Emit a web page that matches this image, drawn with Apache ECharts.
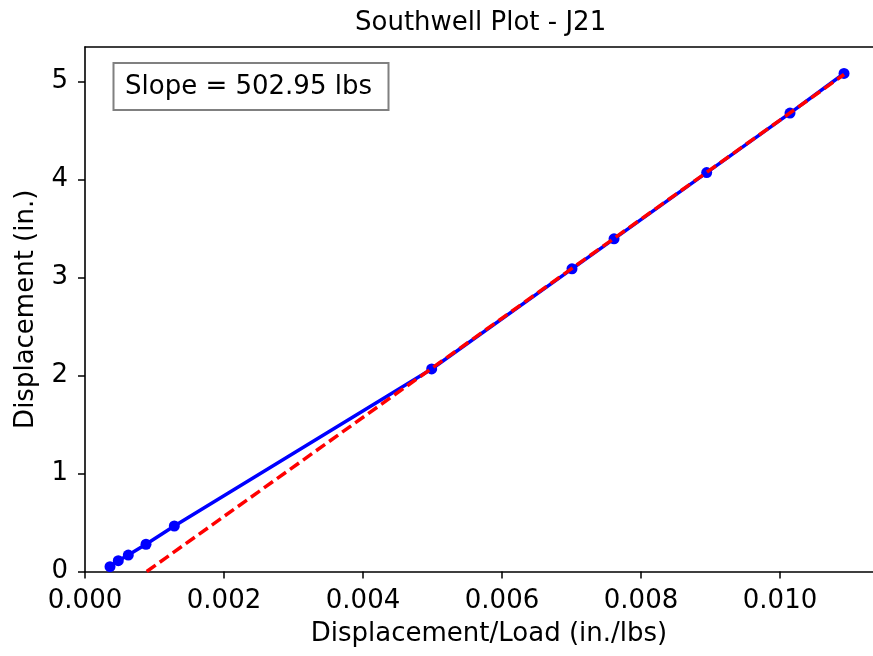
<!DOCTYPE html>
<html>
<head>
<meta charset="utf-8">
<script src="https://cdn.jsdelivr.net/npm/echarts@6/dist/echarts.min.js"></script>
<style>html,body{margin:0;padding:0;background:#fff}#c{width:873px;height:656px}</style>
</head>
<body>
<div id="c"></div>
<script>
// Measured data (Displacement/Load, Displacement)
var dispPerLoad = [0.00036, 0.000479, 0.000623, 0.000878, 0.001285, 0.004988, 0.007007, 0.007612, 0.008945, 0.010144, 0.010921];
var displacement = [0.049, 0.11, 0.168, 0.278, 0.464, 2.066, 3.087, 3.393, 4.069, 4.676, 5.08];
// Fit line end points
var fitX = [0.000888, 0.010921];
var fitY = [0.0, 5.07];
var xTicks = [0, 0.002, 0.004, 0.006, 0.008, 0.010];
var yTicks = [0, 1, 2, 3, 4, 5];
var titleText = 'Southwell Plot - J21';
var slopeText = 'Slope = 502.95 lbs';

var FONT = 'DejaVu Sans';
var chart = echarts.init(document.getElementById('c'), null, {renderer: 'canvas'});
var dataPts = dispPerLoad.map(function (x, i) { return [x, displacement[i]]; });
var fitPts = fitX.map(function (x, i) { return [x, fitY[i]]; });
var XMAX = 0.011338;

chart.setOption({
  animation: false,
  backgroundColor: '#fff',
  title: {
    text: titleText, left: 355, top: 10, padding: 0,
    textStyle: {fontFamily: FONT, fontSize: 26, fontWeight: 'normal', color: '#000'}
  },
  grid: {left: 85, right: 0, top: 47, bottom: 84.5, show: false},
  xAxis: [{
    type: 'value', min: 0, max: XMAX, interval: 0.002,
    name: 'Displacement/Load (in./lbs)', nameLocation: 'middle', nameGap: 50,
    nameTextStyle: {fontFamily: FONT, fontSize: 26, color: '#000', padding: [0, 0, 0, 20]},
    axisLine: {show: true, lineStyle: {color: '#000', width: 1.6}},
    axisTick: {show: true, inside: false, length: 7, lineStyle: {color: '#000', width: 1.5}},
    axisLabel: {fontFamily: FONT, fontSize: 26, color: '#000', margin: 17, showMaxLabel: false,
      formatter: function (v) { return v.toFixed(3); }},
    splitLine: {show: false}
  }, {
    type: 'value', position: 'top', min: 0, max: XMAX,
    axisLine: {show: true, onZero: false, lineStyle: {color: '#000', width: 1.6}},
    axisTick: {show: false}, axisLabel: {show: false}, splitLine: {show: false}
  }],
  yAxis: {
    type: 'value', min: 0, max: 5.35, interval: 1,
    name: 'Displacement (in.)', nameLocation: 'middle', nameGap: 46,
    nameTextStyle: {fontFamily: FONT, fontSize: 26, color: '#000'},
    axisLine: {show: true, lineStyle: {color: '#000', width: 1.6}},
    axisTick: {show: true, inside: false, length: 7, lineStyle: {color: '#000', width: 1.5}},
    axisLabel: {fontFamily: FONT, fontSize: 26, color: '#000', margin: 17, showMaxLabel: false},
    splitLine: {show: false}
  },
  series: [
    {
      type: 'line', data: dataPts, z: 2, xAxisIndex: 0,
      lineStyle: {color: '#0000ff', width: 3.5},
      itemStyle: {color: '#0000ff'},
      symbol: 'circle', symbolSize: 11, showSymbol: true
    },
    {
      type: 'line', data: fitPts, z: 3, symbol: 'none', xAxisIndex: 0,
      lineStyle: {color: '#ff0000', width: 3.5, type: [11, 5]}
    }
  ],
  graphic: [
    {type: 'rect', shape: {x: 113.5, y: 63, width: 275, height: 47},
      style: {fill: '#fff', stroke: '#808080', lineWidth: 2}, z: 100},
    {type: 'text', x: 125, y: 87, z: 101,
      style: {text: slopeText, fontFamily: FONT, fontSize: 26, fill: '#000', verticalAlign: 'middle', align: 'left'}}
  ]
});
</script>
</body>
</html>
